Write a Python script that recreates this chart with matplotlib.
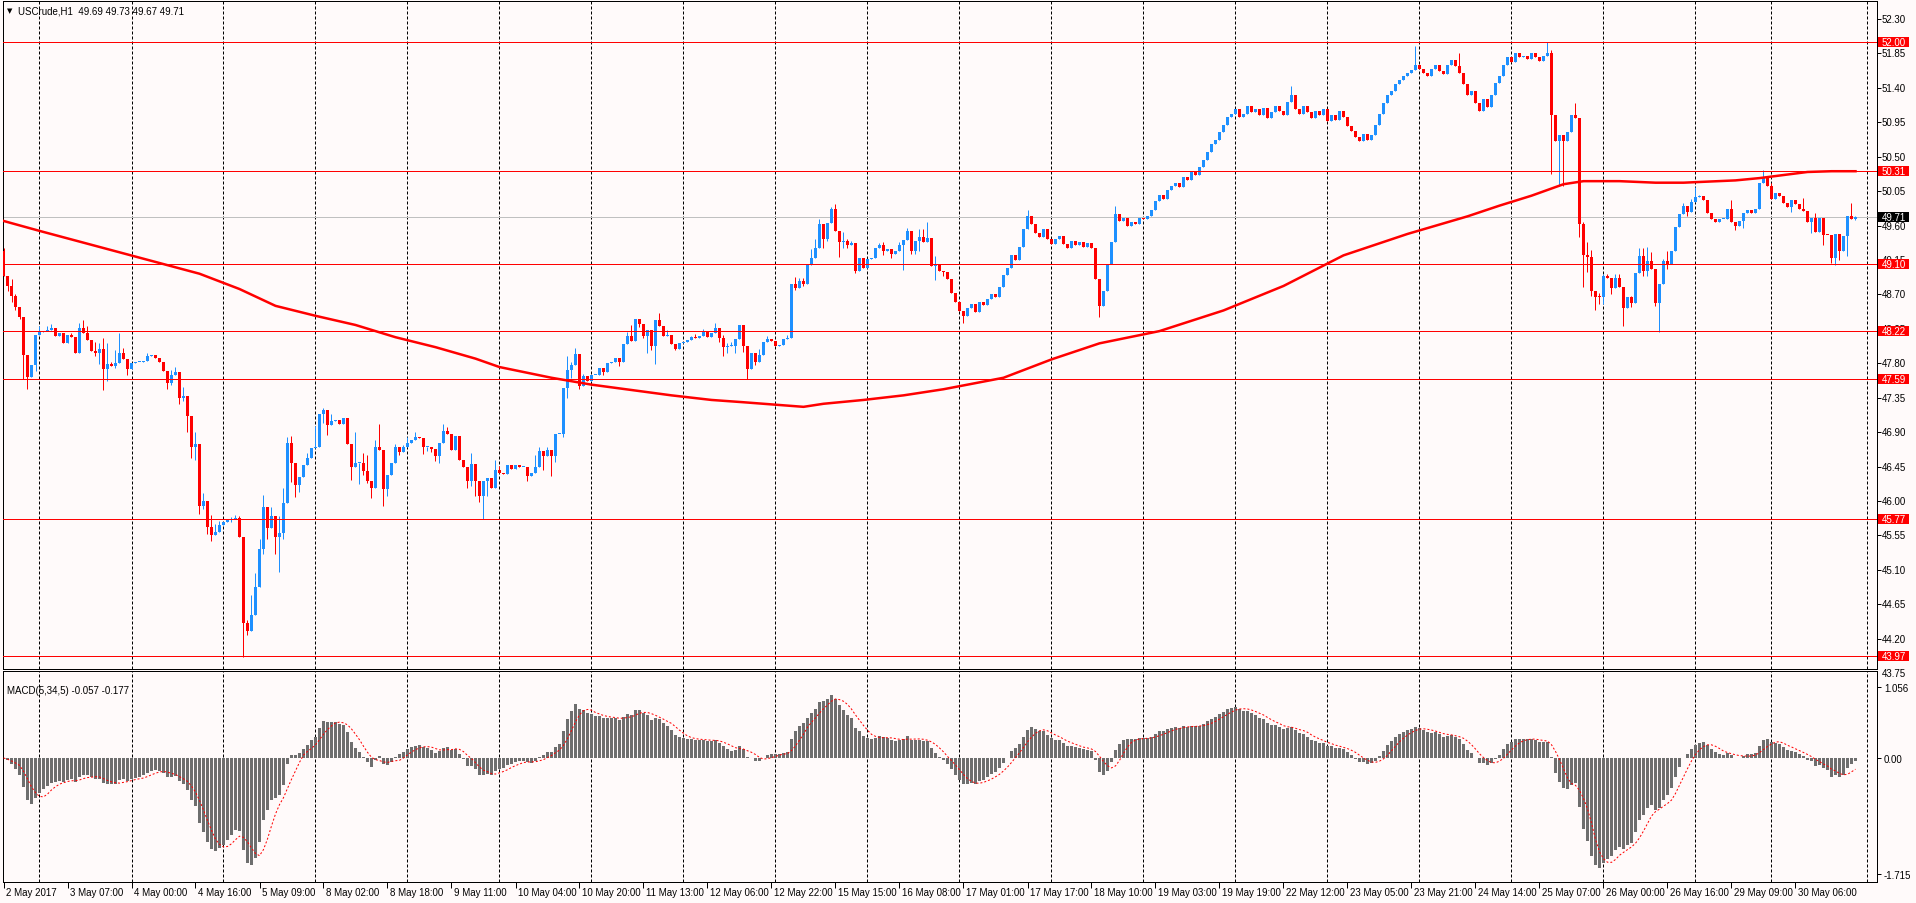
import numpy as np
import pandas as pd
import matplotlib.pyplot as plt
from matplotlib.patches import Rectangle
from matplotlib.transforms import blended_transform_factory

plt.rcParams['font.family'] = ['Liberation Sans', 'DejaVu Sans']

W, H = 1916, 904
PX = 0.72  # one pixel in points

# ---- data (USCrude H1) ----
first_open = 49.27
closes = [
    48.94, 48.81, 48.68, 48.54, 48.41, 47.91, 47.62, 47.78, 48.17, 48.21,
    48.22, 48.23, 48.26, 48.16, 48.20, 48.06, 48.17, 48.14, 47.94, 48.26,
    48.20, 48.11, 47.96, 47.93, 47.99, 47.72, 47.79, 47.77, 47.80, 47.93,
    47.86, 47.72, 47.80, 47.82, 47.82, 47.83, 47.90, 47.91, 47.87, 47.81,
    47.70, 47.54, 47.65, 47.68, 47.35, 47.37, 47.11, 46.71, 46.74, 45.93,
    46.00, 45.66, 45.55, 45.59, 45.68, 45.72, 45.75, 45.76, 45.78, 45.53,
    44.41, 44.30, 44.51, 44.87, 45.37, 45.92, 45.64, 45.80, 45.53, 45.58,
    45.97, 46.76, 46.49, 46.21, 46.31, 46.47, 46.56, 46.69, 46.71, 47.14,
    47.19, 46.99, 47.04, 47.06, 47.00, 47.08, 46.74, 46.45, 46.50, 46.50,
    46.39, 46.26, 46.17, 46.70, 46.66, 46.15, 46.34, 46.50, 46.70, 46.64,
    46.70, 46.76, 46.79, 46.83, 46.82, 46.70, 46.70, 46.68, 46.59, 46.76,
    46.91, 46.87, 46.66, 46.85, 46.53, 46.44, 46.26, 46.48, 46.26, 46.07,
    46.26, 46.30, 46.17, 46.40, 46.37, 46.35, 46.47, 46.42, 46.47, 46.44,
    46.45, 46.33, 46.37, 46.45, 46.65, 46.59, 46.67, 46.59, 46.87, 46.88,
    47.48, 47.71, 47.78, 47.92, 47.50, 47.63, 47.57, 47.64, 47.65, 47.74,
    47.69, 47.80, 47.81, 47.87, 47.82, 48.05, 48.16, 48.09, 48.38, 48.31,
    48.16, 48.23, 48.03, 48.36, 48.29, 48.16, 48.17, 48.05, 47.99, 48.07,
    48.08, 48.10, 48.14, 48.13, 48.16, 48.21, 48.14, 48.19, 48.26, 48.13,
    48.01, 48.02, 48.03, 48.12, 48.30, 48.03, 47.72, 47.94, 47.81, 47.91,
    48.08, 48.12, 48.09, 48.03, 48.04, 48.12, 48.13, 48.84, 48.78, 48.88,
    48.84, 49.08, 49.18, 49.30, 49.62, 49.43, 49.63, 49.81, 49.53, 49.39,
    49.40, 49.34, 49.37, 49.01, 49.18, 49.05, 49.16, 49.17, 49.30, 49.34,
    49.27, 49.29, 49.23, 49.27, 49.35, 49.41, 49.53, 49.27, 49.40, 49.45,
    49.39, 49.44, 49.07, 49.08, 49.01, 48.99, 48.90, 48.72, 48.60, 48.48,
    48.42, 48.52, 48.58, 48.47, 48.60, 48.56, 48.64, 48.70, 48.66, 48.80,
    48.95, 49.05, 49.22, 49.15, 49.32, 49.55, 49.72, 49.62, 49.50, 49.45,
    49.56, 49.42, 49.36, 49.42, 49.46, 49.36, 49.30, 49.40, 49.35, 49.38,
    49.32, 49.37, 49.30, 48.90, 48.55, 48.75, 49.10, 49.38, 49.75, 49.66,
    49.70, 49.60, 49.65, 49.62, 49.70, 49.68, 49.73, 49.80, 49.92, 50.00,
    49.95, 50.06, 50.12, 50.16, 50.10, 50.24, 50.20, 50.30, 50.26, 50.36,
    50.46, 50.56, 50.66, 50.72, 50.82, 50.92, 51.02, 51.06, 51.12, 51.02,
    51.06, 51.16, 51.08, 51.12, 51.05, 51.13, 51.00, 51.08, 51.16, 51.10,
    51.05, 51.22, 51.30, 51.12, 51.06, 51.16, 51.08, 51.00, 51.10, 51.05,
    51.12, 50.96, 51.05, 50.98, 51.10, 51.02, 50.90, 50.84, 50.76, 50.70,
    50.80, 50.72, 50.78, 50.92, 51.06, 51.20, 51.30, 51.36, 51.45, 51.50,
    51.56, 51.60, 51.63, 51.70, 51.64, 51.60, 51.55, 51.65, 51.70, 51.62,
    51.58, 51.70, 51.76, 51.68, 51.60, 51.45, 51.30, 51.36, 51.20, 51.10,
    51.25, 51.15, 51.30, 51.46, 51.56, 51.70, 51.80, 51.74, 51.85, 51.80,
    51.82, 51.78, 51.86, 51.80, 51.75, 51.82, 51.85, 51.05, 50.70, 50.78,
    50.70, 50.82, 51.05, 51.00, 49.62, 49.21, 49.19, 48.75, 48.67, 48.66,
    48.94, 48.91, 48.78, 48.92, 48.79, 48.52, 48.66, 48.59, 48.98, 49.20,
    49.01, 49.14, 49.03, 48.59, 48.84, 49.14, 49.10, 49.27, 49.58, 49.75,
    49.85, 49.78, 49.91, 49.97, 49.98, 49.93, 49.77, 49.69, 49.65, 49.68,
    49.69, 49.82, 49.65, 49.59, 49.66, 49.76, 49.80, 49.77, 49.81, 50.16,
    50.23, 50.12, 49.95, 50.03, 49.98, 49.90, 49.84, 49.93, 49.88, 49.82,
    49.79, 49.64, 49.70, 49.51, 49.70, 49.48, 49.47, 49.18, 49.49, 49.27,
    49.46, 49.73, 49.69, 49.71,
]

# wick extremes where they stick out of the body (bar index -> price)
highs = {0: 49.30, 2: 48.90, 3: 48.70, 9: 48.29, 11: 48.29, 12: 48.31, 17: 48.20, 19: 48.33,
         20: 48.37, 21: 48.29, 23: 48.08, 24: 48.06, 25: 48.13, 26: 48.06, 27: 47.82, 28: 47.97,
         29: 48.19, 30: 48.00, 36: 47.94, 42: 47.71, 43: 47.75, 45: 47.49, 48: 46.90, 50: 46.10,
         52: 45.81, 53: 45.70, 54: 45.74, 57: 45.79, 58: 45.81, 59: 45.80, 61: 44.45, 62: 44.77,
         63: 45.06, 64: 45.50, 65: 46.08, 67: 45.92, 69: 45.80, 70: 46.17, 71: 46.83, 72: 46.85,
         73: 46.40, 76: 46.62, 78: 46.98, 80: 47.21, 82: 47.13, 88: 46.90, 90: 46.62, 91: 46.60,
         93: 46.79, 94: 47.00, 98: 46.75, 100: 46.73, 101: 46.83, 103: 46.90, 106: 46.71,
         110: 47.00, 111: 46.97, 117: 46.63, 123: 46.54, 124: 46.46, 133: 46.60, 134: 46.70,
         136: 46.70, 141: 47.90, 142: 47.82, 143: 48.00, 145: 47.66, 156: 48.21, 157: 48.30,
         164: 48.46, 166: 48.23, 172: 48.16, 173: 48.18, 175: 48.25, 178: 48.32, 180: 48.17,
         181: 48.07, 182: 48.08, 189: 47.98, 191: 48.16, 196: 48.17, 198: 48.93, 199: 48.91,
         200: 48.91, 202: 49.29, 203: 49.43, 204: 49.68, 207: 49.84, 208: 49.88, 210: 49.52,
         211: 49.43, 212: 49.40, 219: 49.37, 220: 49.39, 224: 49.38, 226: 49.57, 229: 49.55,
         230: 49.55, 231: 49.64, 233: 49.20, 256: 49.80, 278: 49.85, 322: 51.42, 353: 51.95,
         364: 51.86, 386: 52.00, 387: 51.90, 393: 51.20, 395: 49.65, 396: 49.38, 397: 49.28,
         399: 48.72, 400: 48.97, 401: 48.97, 403: 48.97, 404: 48.97, 407: 48.68, 409: 49.30,
         410: 49.31, 411: 49.32, 412: 49.25, 415: 49.16, 416: 49.27, 420: 49.90, 422: 49.95,
         423: 50.11, 424: 50.00, 432: 49.93, 440: 50.32, 442: 50.16, 450: 49.96, 453: 49.76,
         462: 49.90, 463: 49.73}
lows = {1: 48.74, 2: 48.60, 3: 48.49, 4: 48.38, 5: 47.59, 6: 47.46, 8: 47.70, 23: 47.90,
        24: 47.79, 25: 47.45, 26: 47.57, 27: 47.76, 28: 47.74, 31: 47.64, 41: 47.46, 42: 47.52,
        44: 47.27, 45: 47.31, 46: 46.90, 47: 46.56, 48: 46.53, 49: 45.83, 50: 45.90, 51: 45.57,
        52: 45.47, 57: 45.72, 60: 43.96, 61: 44.25, 65: 45.30, 66: 45.50, 68: 45.31, 69: 45.07,
        70: 45.50, 72: 46.25, 73: 46.05, 74: 46.12, 80: 47.02, 81: 46.86, 87: 46.27, 89: 46.22,
        90: 46.34, 91: 46.24, 92: 46.04, 95: 45.94, 96: 46.06, 99: 46.60, 105: 46.61, 106: 46.65,
        107: 46.64, 108: 46.52, 109: 46.50, 116: 46.17, 117: 46.20, 118: 46.06, 119: 45.98,
        120: 45.76, 121: 46.06, 131: 46.26, 135: 46.40, 137: 46.32, 138: 46.51, 140: 46.84,
        141: 47.35, 142: 47.61, 144: 47.46, 150: 47.64, 154: 47.77, 159: 48.27, 160: 48.13,
        161: 47.94, 162: 47.97, 163: 47.79, 168: 47.97, 179: 48.08, 180: 47.89, 181: 47.93,
        183: 47.93, 185: 47.95, 186: 47.59, 188: 47.78, 198: 48.76, 200: 48.81, 205: 49.30,
        206: 49.40, 209: 49.19, 210: 49.30, 211: 49.30, 213: 48.98, 220: 49.22, 222: 49.17,
        225: 49.02, 227: 49.23, 228: 49.23, 229: 49.27, 233: 48.89, 235: 48.94, 240: 48.33,
        274: 48.40, 387: 50.27, 389: 50.12, 390: 50.12, 394: 49.45, 395: 48.79, 396: 48.99,
        397: 48.68, 398: 48.49, 399: 48.58, 400: 48.58, 402: 48.71, 405: 48.29, 407: 48.54,
        410: 48.94, 411: 48.94, 413: 48.55, 414: 48.21, 416: 49.03, 421: 49.72, 433: 49.54,
        435: 49.57, 447: 49.78, 452: 49.50, 455: 49.34, 457: 49.11, 458: 49.09, 459: 49.15,
        461: 49.20, 463: 49.67}

# moving average line, read at sample bars
ma_bars = [0, 9, 19, 29, 39, 49, 59, 68, 78, 88, 98, 108, 118, 124, 137, 147, 157, 167,
           177, 185, 195, 200, 205, 215, 225, 235, 250, 262, 274, 289, 305, 320, 335, 351,
           366, 374, 382, 390, 395, 404, 413, 420, 433, 439, 445, 451, 457, 463]
ma_vals = [49.66, 49.53, 49.39, 49.25, 49.11, 48.97, 48.77, 48.55, 48.42, 48.30, 48.14,
           48.01, 47.86, 47.75, 47.61, 47.52, 47.45, 47.38, 47.32, 47.29, 47.25, 47.23,
           47.27, 47.32, 47.38, 47.46, 47.61, 47.85, 48.06, 48.22, 48.49, 48.81, 49.21,
           49.49, 49.72, 49.86, 49.99, 50.14, 50.18, 50.18, 50.16, 50.16, 50.19, 50.22,
           50.26, 50.30, 50.31, 50.31]

levels = [52.00, 50.31, 49.10, 48.22, 47.59, 45.77, 43.97]
bid = 49.71
price_ticks = [52.30, 51.85, 51.40, 50.95, 50.50, 50.05, 49.60, 49.15, 48.70, 48.25,
               47.80, 47.35, 46.90, 46.45, 46.00, 45.55, 45.10, 44.65, 44.20, 43.75]
macd_ticks = [1.056, 0.0, -1.715]
macd_tick_labels = ['1.056', '0.00', '-1.715']
grid_bars = [9, 32, 55, 78, 101, 124, 147, 170, 193, 216, 239, 262, 285, 308, 331,
             354, 377, 400, 423, 442, 466]
time_labels = ['2 May 2017', '3 May 07:00', '4 May 00:00', '4 May 16:00', '5 May 09:00',
               '8 May 02:00', '8 May 18:00', '9 May 11:00', '10 May 04:00', '10 May 20:00',
               '11 May 13:00', '12 May 06:00', '12 May 22:00', '15 May 15:00', '16 May 08:00',
               '17 May 01:00', '17 May 17:00', '18 May 10:00', '19 May 03:00', '19 May 19:00',
               '22 May 12:00', '23 May 05:00', '23 May 21:00', '24 May 14:00', '25 May 07:00',
               '26 May 00:00', '26 May 16:00', '29 May 09:00', '30 May 06:00']
label_bars = [16 * k for k in range(len(time_labels))]

BG = '#fffafa'
BULL = '#1e90ff'
BEAR = '#ff0000'

# ---- candles ----
c = np.array(closes)
o = np.r_[first_open, c[:-1]]
idx = np.arange(len(c))
hi = np.maximum(o, c)
lo = np.minimum(o, c)
for k, v in highs.items():
    hi[k] = max(hi[k], v)
for k, v in lows.items():
    lo[k] = min(lo[k], v)
col = np.where(c >= o, BULL, BEAR)

# MACD(5,34,5): EMA5 - EMA34 of close, signal = SMA5
s = pd.Series(c)
macd = (s.ewm(span=5, adjust=False).mean() - s.ewm(span=34, adjust=False).mean()).values
signal = pd.Series(macd).rolling(5, min_periods=1).mean().values

fig = plt.figure(figsize=(W / 100, H / 100), dpi=100, facecolor=BG)
ax = fig.add_axes([2.5 / W, 1 - 670 / H, 1874.5 / W, 668 / H], facecolor=BG)
am = fig.add_axes([2.5 / W, 1 - 883 / H, 1874.5 / W, 211 / H], facecolor=BG)

xlim = (-0.25, 468.375)
for a in (ax, am):
    a.set_xlim(*xlim)
    for sp in a.spines.values():
        sp.set_linewidth(PX)
        sp.set_color('black')
    for g in grid_bars:
        a.axvline(g, color='black', lw=PX, ls=(0, (3, 2)), zorder=1)
ax.set_ylim(43.803, 52.535)
am.set_ylim(-1.832, 1.285)

# price panel
ax.vlines(idx, lo, hi, colors=col, lw=PX, zorder=3)
ax.bar(idx, np.maximum(np.abs(c - o), 0.013), bottom=np.minimum(o, c), width=0.75,
       color=col, linewidth=0, zorder=3)
ax.plot(ma_bars, ma_vals, color='red', lw=1.8, zorder=4)
for lv in levels:
    ax.axhline(lv, color='red', lw=PX, zorder=5)
ax.axhline(bid, color='#c0c0c0', lw=PX, zorder=2)

# right price scale
ax.set_xticks([])
ax.yaxis.tick_right()
ax.set_yticks([t for t in price_ticks if t > 43.803])
ax.tick_params(axis='y', length=3, width=PX, labelright=False, labelleft=False)
tr = blended_transform_factory(ax.transAxes, ax.transData)
xt = (1882 - 2.5) / 1874.5
for t in price_ticks:
    ax.text(xt, t, f'{t:.2f}', transform=tr, fontsize=7, va='center', ha='left',
            clip_on=False, zorder=3)
box_x = (1878 - 2.5) / 1874.5
box_w = 31 / 1874.5
box_h = 10 / 76.5
for lv, fc in [(v, 'red') for v in levels] + [(bid, 'black')]:
    ax.add_patch(Rectangle((box_x, lv - box_h / 2), box_w, box_h, transform=tr,
                           facecolor=fc, edgecolor='none', clip_on=False, zorder=6))
    ax.text(xt, lv, f'{lv:.2f}', transform=tr, fontsize=7, va='center', ha='left',
            color='white', clip_on=False, zorder=7)

# MACD panel
am.bar(idx, macd, width=0.7, color='#6e6e6e', linewidth=0, zorder=2)
am.plot(idx, signal, color='red', lw=PX, ls=(0, (2, 2)), zorder=3)
am.yaxis.tick_right()
am.set_yticks(macd_ticks)
am.set_yticklabels(macd_tick_labels, fontsize=7)
am.tick_params(axis='y', length=3, width=PX, pad=2)
am.set_xticks(label_bars)
am.set_xticklabels([])
am.tick_params(axis='x', length=4, width=PX)
trx = blended_transform_factory(am.transData, fig.transFigure)
for b, lab in zip(label_bars, time_labels):
    am.text(b + 0.7, 1 - 893 / H, lab, transform=trx, fontsize=7, va='center', ha='left',
            clip_on=False)

# headers
fig.text(10 / W, 1 - 11 / H, '\u25bc', fontsize=5, ha='center', va='center',
         family=['DejaVu Sans'])
fig.text(18 / W, 1 - 11 / H, 'USCrude,H1  49.69 49.73 49.67 49.71', fontsize=7,
         ha='left', va='center')
fig.text(7 / W, 1 - 691 / H, 'MACD(5,34,5) -0.057 -0.177', fontsize=7,
         ha='left', va='center')

fig.savefig('out.png', dpi=100, facecolor=BG)
